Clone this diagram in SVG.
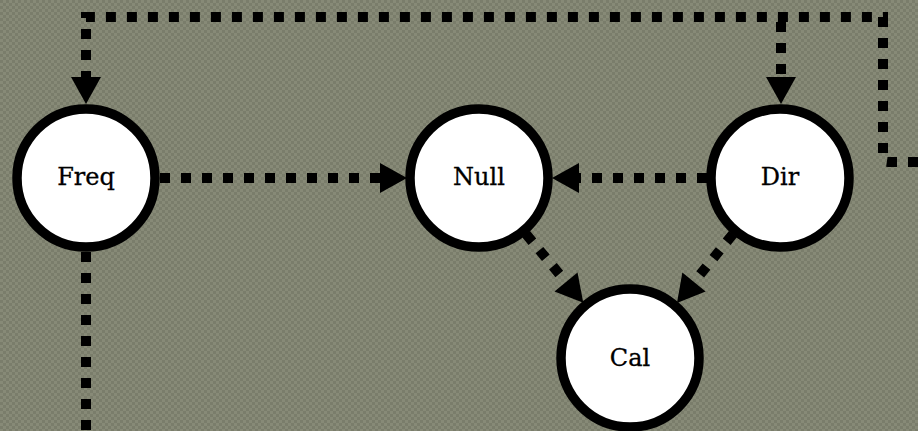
<svg xmlns="http://www.w3.org/2000/svg" width="918" height="431" viewBox="0 0 918 431">
<defs>
<pattern id="bg" width="6" height="6" patternUnits="userSpaceOnUse">
<rect width="6" height="6" fill="#878a77"/>
<rect width="3" height="3" fill="#7a7d6b"/>
<rect x="3" y="3" width="3" height="3" fill="#7a7d6b"/>
</pattern>
<marker id="ah" markerUnits="userSpaceOnUse" markerWidth="28" markerHeight="32" refX="0" refY="15" orient="auto" overflow="visible">
<path d="M0,0 L27,15 L0,30 Z" fill="#000"/>
</marker>
<style>
.n{fill:#fff;stroke:#000;stroke-width:9.5}
.t{font-family:"DejaVu Serif","Liberation Serif",serif;font-size:24px;text-anchor:middle;fill:#000;stroke:#000;stroke-width:0.3}
.e{fill:none;stroke:#000;stroke-width:10;stroke-dasharray:10 11}
.a{marker-end:url(#ah)}
</style>
</defs>
<rect width="918" height="431" fill="url(#bg)"/>
<g id="connectors">
<path class="e a" d="M918,162 H888 Q883,162 883,157 V17 H86 V77"/>
<path class="e a" d="M781,22 V77"/>
<path class="e" d="M86,252 V431"/>
<path class="e a" d="M160,178 H380"/>
<path class="e a" d="M707,178 H579"/>
<path class="e a" d="M526,234 L566,282"/>
<path class="e a" d="M733,234 L694,282"/>
</g>
<g id="Freq"><circle class="n" cx="86" cy="178" r="69"/><text class="t" x="86" y="185">Freq</text></g>
<g id="Null"><circle class="n" cx="479" cy="178" r="69"/><text class="t" x="479" y="185">Null</text></g>
<g id="Dir"><circle class="n" cx="780" cy="178" r="69"/><text class="t" x="780" y="185">Dir</text></g>
<g id="Cal"><circle class="n" cx="630" cy="358" r="69"/><text class="t" x="630" y="366">Cal</text></g>
</svg>
